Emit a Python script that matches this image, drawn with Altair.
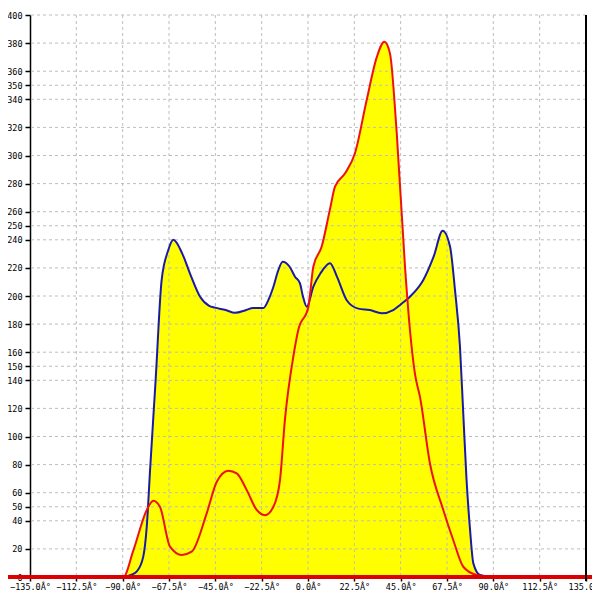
import altair as alt
import pandas as pd

blue_x = [-135, -90, -86, -83.2, -80, -78.3, -76.7, -74, -71.1, -68, -65.4, -61, -57.3, -52.4, -48,
          -45.2, -40, -35.5, -30, -26.7, -21.7, -19, -16.8, -14.5, -12.3, -9, -6.3, -3.9, -2.5, -0.6,
          2.6, 6, 10.7, 14, 18.8, 24.4, 30, 35.8, 41.4, 45, 49.5, 56, 61, 65.4, 69, 71.4, 73.8, 75.4,
          77, 78.7, 80.3, 83.5, 90, 135]
blue_y = [0, 0, 1.5, 3.8, 14.5, 35.8, 76, 140, 211, 232, 240, 230, 216, 199.5, 193,
          191.7, 190, 188, 190, 191.5, 191.5, 198, 206.6, 218, 224.4, 221, 213.7, 209, 200, 192.4,
          206.6, 216, 223.3, 214, 197, 191, 190, 187.7, 190, 194, 199.5, 211.4, 228, 246.5, 235, 204, 164, 116.4,
          69, 33.5, 9.7, 1.4, 0, 0]

red_x = [-135, -90, -89.7, -84.8, -78.3, -75.1, -71.9, -67, -61.3, -56.5, -49.2, -44.3, -38.7, -34.6,
         -29.8, -24.9, -20.9, -16.8, -13.6, -11.2, -7, -4.7, 0.2, 2.6, 6.6, 10.7, 13.1, 18, 22.8, 28.5,
         33.4, 37.1, 39.8, 43.1, 47.1, 49.5, 52, 54.4, 59.2, 65.7, 70.6, 75.4, 82, 90, 135]
red_y = [0, 0, 0, 19, 47.7, 54.3, 50, 21.6, 15.7, 18, 45.3, 67.8, 75.7, 73.8,
         62, 47.7, 44, 50, 69, 112, 158, 176, 192.4, 221, 235, 262, 277.8, 287.3, 301.6, 339.5,
         370, 381, 372.7, 315.8, 221, 176, 144, 128, 81, 47.7, 26, 7.3, 1.4, 0, 0]

x_ticks = [-135, -112.5, -90, -67.5, -45, -22.5, 0, 22.5, 45, 67.5, 90, 112.5, 135]
y_ticks = [0, 20, 40, 50, 60, 80, 100, 120, 140, 150, 160, 180, 200, 220, 240, 250, 260,
           280, 300, 320, 340, 350, 360, 380, 400]

W, H = 556, 562
FONT = "DejaVu Sans Mono"

blue = pd.DataFrame({"x": blue_x, "y": blue_y})
red = pd.DataFrame({"x": red_x, "y": red_y})
gx = pd.DataFrame({"x": x_ticks[1:-1]})
gy = pd.DataFrame({"y": y_ticks[1:]})

xs = alt.Scale(domain=[-135, 135], nice=False, zero=False)
ys = alt.Scale(domain=[0, 400], nice=False)

X = alt.X("x:Q", scale=xs, axis=alt.Axis(
    values=x_ticks, labelExpr="format(datum.value, '.1f') + 'Â°'", grid=False, domain=False,
    tickColor="black", tickSize=4, tickWidth=1.5, labelFont=FONT, labelFontSize=8.5,
    labelColor="black", labelPadding=1, title=None, labelFlush=False, labelOverlap=False))
Y = alt.Y("y:Q", scale=ys, axis=alt.Axis(
    values=y_ticks, grid=False, domainColor="black", domainWidth=1.5, tickColor="black",
    tickSize=5, tickWidth=1.5, labelFont=FONT, labelFontSize=8.5, labelColor="black",
    labelPadding=3, title=None, labelOverlap=False, labelFlush=False))

area_blue = alt.Chart(blue).mark_area(color="#ffff00", opacity=1, interpolate="monotone").encode(x=X, y=Y)
area_red = alt.Chart(red).mark_area(color="#ffff00", opacity=1, interpolate="monotone").encode(x=X, y=Y)
grid_x = alt.Chart(gx).mark_rule(color="#bdbdbd", strokeDash=[3, 3], strokeWidth=1).encode(x=X)
grid_y = alt.Chart(gy).mark_rule(color="#bdbdbd", strokeDash=[3, 3], strokeWidth=1).encode(y=Y)
line_blue = alt.Chart(blue).mark_line(color="#1a1aa8", strokeWidth=2, interpolate="monotone").encode(x=X, y=Y)
line_red = alt.Chart(red).mark_line(color="#ee1111", strokeWidth=2, interpolate="monotone").encode(x=X, y=Y)
zero_rule = alt.Chart(gx).mark_rule(color="#dd0000", strokeWidth=3).encode(
    x=alt.value(-30), x2=alt.value(W + 6), y=alt.value(H))
right_rule = alt.Chart(gx).mark_rule(color="black", strokeWidth=1.5).encode(
    x=alt.value(W), y=alt.value(0), y2=alt.value(H + 4))

chart = alt.layer(
    area_blue, area_red, grid_x, grid_y, line_blue, line_red, zero_rule, right_rule
).properties(
    width=W, height=H,
    padding={"left": 22, "top": 7, "right": 6, "bottom": 15},
    autosize=alt.AutoSizeParams(type="none"),
    background="white",
).configure_view(stroke=None)

chart.save("out.html", embed_options={"renderer": "svg", "actions": False})
